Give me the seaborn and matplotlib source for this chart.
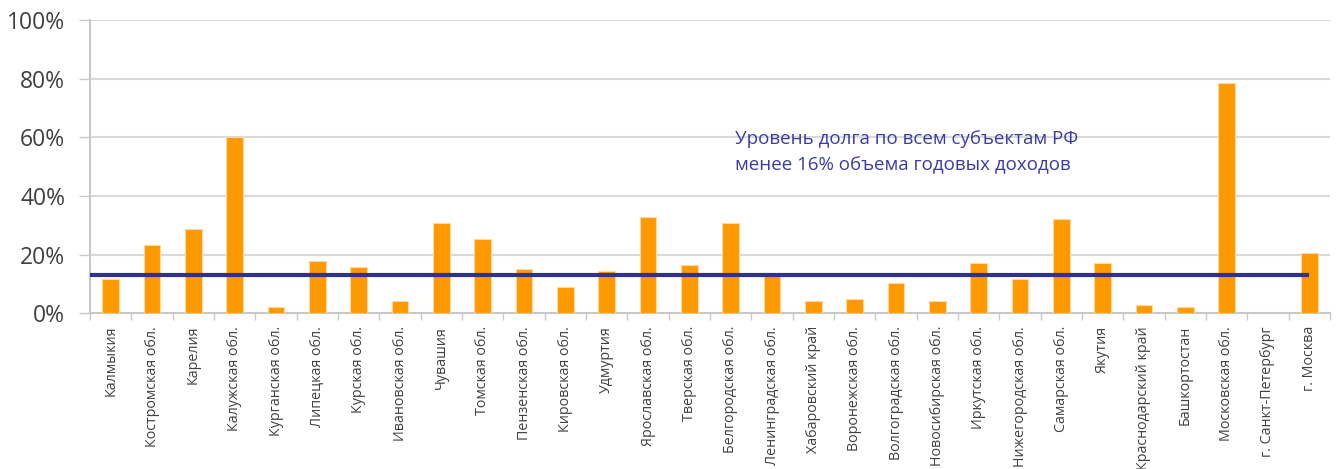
"""Долговая нагрузка субъектов РФ (доля от годовых доходов)."""
import pandas as pd
import matplotlib
matplotlib.use("Agg")
import matplotlib.pyplot as plt
import seaborn as sns
from matplotlib.ticker import FixedLocator, PercentFormatter

regions = [
    "Калмыкия", "Костромская обл.", "Карелия", "Калужская обл.",
    "Курганская обл.", "Липецкая обл.", "Курская обл.", "Ивановская обл.",
    "Чувашия", "Томская обл.", "Пензенская обл.", "Кировская обл.",
    "Удмуртия", "Ярославская обл.", "Тверская обл.", "Белгородская обл.",
    "Ленинградская обл.", "Хабаровский край", "Воронежская обл.",
    "Волгоградская обл.", "Новосибирская обл.", "Иркутская обл.",
    "Нижегородская обл.", "Самарская обл.", "Якутия", "Краснодарский край",
    "Башкортостан", "Московская обл.", "г. Санкт-Петербург", "г. Москва",
]
debt_share = [
    11.7, 23.3, 28.7, 60.1, 2.3, 17.9, 15.8, 4.3,
    30.8, 25.3, 15.1, 9.0, 14.5, 32.8, 16.5, 30.8,
    13.9, 4.3, 4.9, 10.4, 4.3, 17.2, 11.7, 32.1,
    17.2, 2.9, 2.2, 78.4, 0.0, 20.6,
]
avg_level = 13.2
note = "Уровень долга по всем субъектам РФ\nменее 16% объема годовых доходов"
y_ticks = [0, 20, 40, 60, 80, 100]

bar_color = "#ff9900"
line_color = "#2e3192"
text_color = "#404040"
grid_color = "#d9d9d9"

sns.set_theme(style="white")
plt.rcParams["font.family"] = ["Open Sans", "DejaVu Sans"]

df = pd.DataFrame({"region": regions, "share": debt_share})

fig = plt.figure(figsize=(13.36, 4.69), dpi=100)
ax = fig.add_axes([0.0674, 0.3316, 0.9281, 0.6258])

sns.barplot(data=df, x="region", y="share", color=bar_color, saturation=1,
            width=0.4, edgecolor="#ffd9a0", linewidth=0.8, ax=ax, zorder=3)

n = len(regions)
ax.plot([-0.5, n - 1], [avg_level, avg_level], color=line_color,
        linewidth=3, zorder=4, solid_capstyle="butt")

ax.text(15.1, 55.0, note, color="#3b3ba6", fontsize=13.5,
        linespacing=1.6, va="center", ha="left", zorder=5)

ax.set_xlim(-0.5, n - 0.5)
ax.set_ylim(0, 100)
ax.yaxis.set_major_locator(FixedLocator(y_ticks))
ax.yaxis.set_major_formatter(PercentFormatter(decimals=0))
for y in y_ticks[1:]:
    ax.axhline(y, color=grid_color, linewidth=1.5, zorder=1)

ax.set_xlabel("")
ax.set_ylabel("")
ax.tick_params(axis="y", which="major", length=8, width=1, color="#c8c8c8",
               labelsize=16.5, labelcolor=text_color, pad=10, left=True)
ax.tick_params(axis="x", which="major", length=0, labelsize=10.3,
               labelcolor=text_color, pad=9, rotation=90)
ax.set_xticks([i - 0.5 for i in range(n + 1)], minor=True)
ax.tick_params(axis="x", which="minor", length=5, width=1, color="#c8c8c8",
               bottom=True)

for side in ["top", "right"]:
    ax.spines[side].set_visible(False)
for side in ["left", "bottom"]:
    ax.spines[side].set_color("#c8c8c8")
    ax.spines[side].set_linewidth(1.5)

fig.savefig("out.png", dpi=100)
